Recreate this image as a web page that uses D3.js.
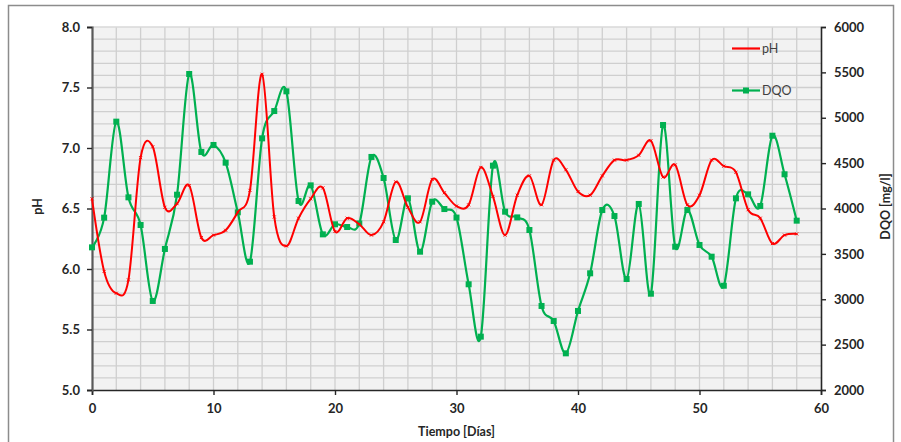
<!DOCTYPE html>
<html>
<head>
<meta charset="utf-8">
<script src="https://cdn.jsdelivr.net/npm/d3@7"></script>
<style>
  body { margin: 0; background: #fff; }
  text { font-family: Lato, "Open Sans", sans-serif; }
</style>
</head>
<body>
<div id="chart-area"></div>
<script>
// days 0..58
const days = [0, 1, 2, 3, 4, 5, 6, 7, 8, 9, 10, 11, 12, 13, 14, 15, 16, 17, 18, 19,
    20, 21, 22, 23, 24, 25, 26, 27, 28, 29, 30, 31, 32, 33, 34, 35, 36, 37, 38, 39,
    40, 41, 42, 43, 44, 45, 46, 47, 48, 49, 50, 51, 52, 53, 54, 55, 56, 57, 58];

const phValues = [6.58, 5.98, 5.80, 5.91, 6.92, 7.01, 6.51, 6.54, 6.69, 6.26,
    6.28, 6.32, 6.47, 6.65, 7.61, 6.43, 6.19, 6.42, 6.58, 6.67,
    6.31, 6.42, 6.37, 6.28, 6.39, 6.72, 6.51, 6.39, 6.74, 6.63,
    6.52, 6.53, 6.84, 6.60, 6.28, 6.61, 6.77, 6.53, 6.90, 6.82,
    6.64, 6.61, 6.77, 6.90, 6.90, 6.94, 7.06, 6.76, 6.86, 6.53,
    6.61, 6.90, 6.85, 6.80, 6.49, 6.42, 6.21, 6.28, 6.29];

const dqoValues = [3572, 3899, 4957, 4123, 3818, 2981, 3554, 4152, 5482, 4623,
    4700, 4505, 3958, 3414, 4773, 5074, 5291, 4083, 4255, 3715,
    3826, 3796, 3835, 4568, 4336, 3653, 4112, 3524, 4075, 3994,
    3900, 3165, 2588, 4472, 3965, 3902, 3763, 2926, 2760, 2404,
    2871, 3286, 3983, 3917, 3223, 4050, 3061, 4920, 3579, 3983,
    3598, 3469, 3149, 4112, 4156, 4028, 4802, 4377, 3866];

const xTicks = [0, 10, 20, 30, 40, 50, 60];
const phTicks = [5.0, 5.5, 6.0, 6.5, 7.0, 7.5, 8.0];
const dqoTicks = [2000, 2500, 3000, 3500, 4000, 4500, 5000, 5500, 6000];

const margin = {left: 92, right: 80, top: 27, bottom: 52};
const width = 901 - margin.left - margin.right;
const height = 442 - margin.top - margin.bottom;

const svg = d3.select('#chart-area')
    .append('svg')
    .attr('width', 901)
    .attr('height', 442);

// outer chart border
svg.append('rect')
    .attr('x', 8.5).attr('y', 5.5)
    .attr('width', 885).attr('height', 450)
    .attr('fill', 'none')
    .attr('stroke', '#8c8c8c')
    .attr('stroke-width', 1.5);

const g = svg.append('g')
    .attr('transform', `translate(${margin.left}, ${margin.top})`);

const x = d3.scaleLinear().domain([0, 60]).range([0, width]);
const yPh = d3.scaleLinear().domain([5, 8]).range([height, 0]);
const yDqo = d3.scaleLinear().domain([2000, 6000]).range([height, 0]);

g.append('rect')
    .attr('width', width).attr('height', height)
    .attr('fill', '#f2f2f2');

// grid
g.append('g').selectAll('line')
    .data(d3.range(51, 80).map(d => d / 10))
    .enter().append('line')
        .attr('x1', 0).attr('x2', width)
        .attr('y1', d => yPh(d)).attr('y2', d => yPh(d))
        .attr('stroke', '#cfcfcf').attr('stroke-width', 1.3);

g.append('g').selectAll('line')
    .data(d3.range(2, 60, 2))
    .enter().append('line')
        .attr('x1', d => x(d)).attr('x2', d => x(d))
        .attr('y1', 0).attr('y2', height)
        .attr('stroke', '#cfcfcf').attr('stroke-width', 1.3);

g.append('line')
    .attr('x1', 0).attr('x2', width).attr('y1', 0).attr('y2', 0)
    .attr('stroke', '#d9d9d9').attr('stroke-width', 1.3);

// axes
const xAxisCall = d3.axisBottom(x).tickValues(xTicks).tickSize(5).tickFormat(d3.format('d'));
const xAxis = g.append('g')
    .attr('transform', `translate(0, ${height})`)
    .call(xAxisCall);

const yAxisCall = d3.axisLeft(yPh).tickValues(phTicks).tickSize(5).tickFormat(d3.format('.1f'));
const yAxis = g.append('g').call(yAxisCall);

const y2AxisCall = d3.axisRight(yDqo).tickValues(dqoTicks).tickSize(5).tickFormat(d3.format('d'));
const y2Axis = g.append('g')
    .attr('transform', `translate(${width}, 0)`)
    .call(y2AxisCall);

[xAxis, yAxis, y2Axis].forEach(a => {
    a.select('.domain').attr('stroke', '#262626').attr('stroke-width', 1.6);
    a.selectAll('.tick line').attr('stroke', '#262626').attr('stroke-width', 1.4);
    a.selectAll('.tick text')
        .attr('font-family', 'Lato, sans-serif')
        .attr('font-size', '13px')
        .attr('font-weight', 'bold')
        .attr('fill', '#262626');
});
yAxis.select('.domain').attr('stroke', '#595959').attr('stroke-width', 2.2);
xAxis.selectAll('.tick text').attr('dy', '1.15em');
yAxis.selectAll('.tick text').attr('x', -12);
y2Axis.selectAll('.tick text').attr('x', 13);

// axis titles
g.append('text')
    .attr('x', width / 2)
    .attr('y', height + 46)
    .attr('text-anchor', 'middle')
    .attr('font-size', '12.5px')
    .attr('font-weight', 'bold')
    .attr('fill', '#262626')
    .text('Tiempo [Días]');

g.append('text')
    .attr('x', -(height / 2) + 2)
    .attr('y', -50)
    .attr('text-anchor', 'middle')
    .attr('transform', 'rotate(-90)')
    .attr('font-size', '12.5px')
    .attr('font-weight', 'bold')
    .attr('fill', '#262626')
    .text('pH');

g.append('text')
    .attr('x', -(height / 2) + 2)
    .attr('y', width + 69)
    .attr('text-anchor', 'middle')
    .attr('transform', 'rotate(-90)')
    .attr('font-size', '12.5px')
    .attr('font-weight', 'bold')
    .attr('fill', '#262626')
    .text('DQO [mg/l]');

// series
const phLine = d3.line()
    .x((d, i) => x(days[i]))
    .y(d => yPh(d))
    .curve(d3.curveCatmullRom.alpha(0));

const dqoLine = d3.line()
    .x((d, i) => x(days[i]))
    .y(d => yDqo(d))
    .curve(d3.curveCatmullRom.alpha(0));

g.append('path')
    .datum(dqoValues)
    .attr('d', dqoLine)
    .attr('fill', 'none')
    .attr('stroke', '#00b050')
    .attr('stroke-width', 2.2);

g.selectAll('.dqo-mark')
    .data(dqoValues)
    .enter().append('rect')
        .attr('class', 'dqo-mark')
        .attr('x', (d, i) => x(days[i]) - 3)
        .attr('y', d => yDqo(d) - 3)
        .attr('width', 6).attr('height', 6)
        .attr('fill', '#00b050');

g.append('path')
    .datum(phValues)
    .attr('d', phLine)
    .attr('fill', 'none')
    .attr('stroke', '#ff0000')
    .attr('stroke-width', 2);

g.selectAll('.ph-mark')
    .data(phValues)
    .enter().append('path')
        .attr('class', 'ph-mark')
        .attr('d', (d, i) => {
            const cx = x(days[i]), cy = yPh(d);
            return `M${cx - 1.5},${cy - 1.5}L${cx + 1.5},${cy + 1.5}M${cx - 1.5},${cy + 1.5}L${cx + 1.5},${cy - 1.5}`;
        })
        .attr('stroke', '#ff0000')
        .attr('stroke-width', 1);

// legend
const legend = svg.append('g');
legend.append('line')
    .attr('x1', 732).attr('x2', 760).attr('y1', 48.5).attr('y2', 48.5)
    .attr('stroke', '#ff0000').attr('stroke-width', 2.2);
legend.append('text')
    .attr('x', 762).attr('y', 53)
    .attr('font-size', '12.5px')
    .attr('fill', '#404040')
    .text('pH');
legend.append('line')
    .attr('x1', 732).attr('x2', 760).attr('y1', 90.5).attr('y2', 90.5)
    .attr('stroke', '#00b050').attr('stroke-width', 2.2);
legend.append('rect')
    .attr('x', 743).attr('y', 87.5).attr('width', 6).attr('height', 6)
    .attr('fill', '#00b050');
legend.append('text')
    .attr('x', 762).attr('y', 95)
    .attr('font-size', '12.5px')
    .attr('fill', '#404040')
    .text('DQO');
</script>
</body>
</html>
